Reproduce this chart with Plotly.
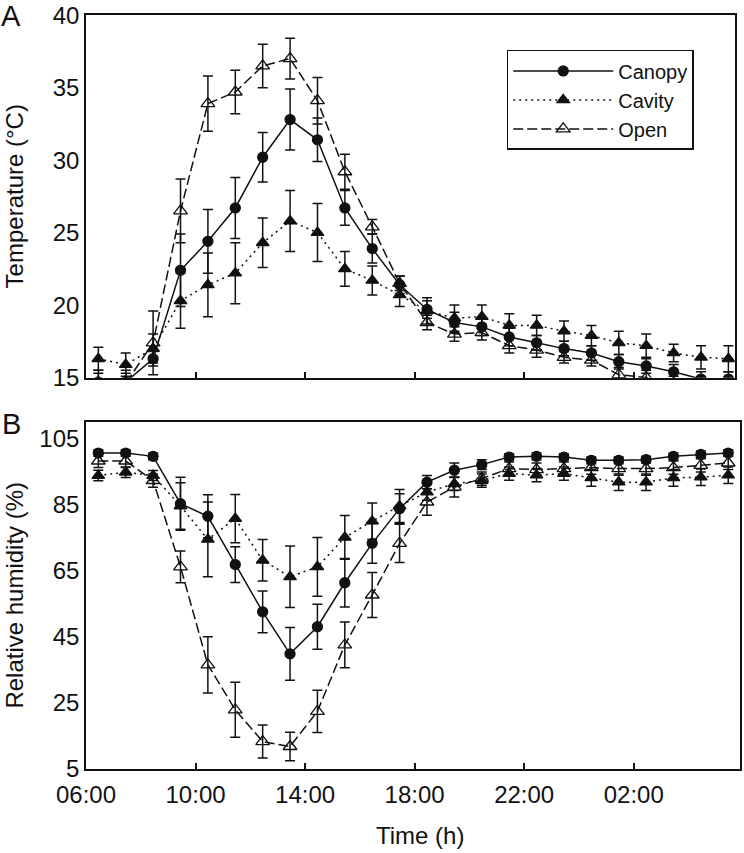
import plotly.graph_objects as go

# Time of each reading (decimal hours, >24 = next day)
hours = [6.45, 7.45, 8.45, 9.45, 10.45, 11.45, 12.45, 13.45, 14.45, 15.45, 16.45, 17.45,
         18.45, 19.45, 20.45, 21.45, 22.45, 23.45, 24.45, 25.45, 26.45, 27.45, 28.45, 29.45]

tick_vals = [6, 10, 14, 18, 22, 26]
tick_text = ["06:00", "10:00", "14:00", "18:00", "22:00", "02:00"]

# Panel A: temperature (°C)
temp_canopy = [14.7, 14.7, 16.3, 22.4, 24.4, 26.7, 30.2, 32.8, 31.4, 26.7, 23.9, 21.4,
               19.7, 18.8, 18.5, 17.8, 17.4, 17.0, 16.7, 16.1, 15.8, 15.4, 14.9, 14.9]
temp_canopy_err = [0.6, 0.6, 0.5, 2.5, 2.2, 2.1, 1.7, 2.1, 1.5, 1.2, 1.0, 0.6,
                   0.6, 0.7, 0.6, 0.6, 0.5, 0.5, 0.5, 0.5, 0.5, 0.5, 0.5, 0.5]
temp_cavity = [16.3, 15.9, 17.0, 20.3, 21.4, 22.2, 24.3, 25.8, 25.0, 22.5, 21.7, 20.7,
               19.6, 19.1, 19.2, 18.6, 18.6, 18.2, 17.9, 17.4, 17.2, 16.7, 16.4, 16.3]
temp_cavity_err = [0.8, 0.8, 1.0, 1.9, 2.2, 2.1, 1.7, 2.1, 2.0, 1.2, 1.0, 0.8,
                   0.9, 0.9, 0.8, 0.8, 0.7, 0.7, 0.7, 0.8, 0.8, 0.6, 0.8, 0.9]
temp_open = [14.6, 14.6, 17.4, 26.5, 33.9, 34.7, 36.5, 37.0, 34.1, 29.2, 25.4, 21.5,
             18.8, 18.0, 18.1, 17.2, 16.9, 16.4, 16.2, 15.2, 15.0, 14.6, 14.4, 14.4]
temp_open_err = [0.9, 0.9, 2.2, 2.2, 1.9, 1.5, 1.5, 1.4, 1.6, 1.2, 0.5, 0.5,
                 0.5, 0.5, 0.5, 0.5, 0.5, 0.4, 0.4, 0.5, 0.5, 0.5, 0.5, 0.5]

# Panel B: relative humidity (%)
rh_canopy = [100.5, 100.5, 99.5, 85.2, 81.4, 66.8, 52.5, 39.8, 48.0, 61.3, 73.2, 83.7,
             91.7, 95.3, 97.0, 99.3, 99.5, 99.3, 98.3, 98.3, 98.5, 99.5, 100.1, 100.5]
rh_canopy_err = [1, 1, 1, 8, 6.5, 5.4, 6.3, 8, 6.8, 7.3, 6, 4.5,
                 2, 2.2, 1.5, 1, 1, 1, 1, 1, 1, 1, 1, 1]
rh_cavity = [93.7, 94.7, 93.7, 84.5, 74.4, 80.7, 68.1, 63.1, 66.1, 75.0, 79.9, 84.5,
             88.7, 91.2, 92.2, 94.3, 93.8, 94.3, 93.0, 91.7, 91.7, 93.0, 93.2, 93.8]
rh_cavity_err = [1.6, 1.6, 1.5, 7, 11.3, 7.3, 6.3, 9.3, 8.9, 6.6, 5.5, 5,
                 2.5, 2, 2, 2, 2, 2, 2.5, 2.5, 2.5, 2.5, 2.5, 2.5]
rh_open = [98.1, 98.1, 92.2, 66.1, 36.5, 22.9, 13.3, 11.8, 22.4, 42.5, 57.6, 73.2,
           85.7, 90.2, 92.8, 95.8, 95.5, 95.8, 96.1, 95.8, 95.8, 96.1, 96.8, 97.5]
rh_open_err = [2, 2, 2, 4.8, 8.5, 8.3, 5, 4.3, 6.4, 6.9, 6.8, 5.8,
               4, 3, 2, 2, 2, 2, 2, 2, 2, 2, 2, 2]

FONT = "Liberation Sans, Arial, Helvetica, sans-serif"
INK = "#111111"

series = [
    ("Canopy", "solid", "circle", 10, temp_canopy, temp_canopy_err, rh_canopy, rh_canopy_err),
    ("Cavity", "2px,4px", "triangle-up", 11, temp_cavity, temp_cavity_err, rh_cavity, rh_cavity_err),
    ("Open", "10px,4px", "triangle-up-open", 12, temp_open, temp_open_err, rh_open, rh_open_err),
]

fig = go.Figure()
for name, dash, sym, msize, t, te, rh, rhe in series:
    marker = dict(symbol=sym, size=msize, color=INK, line=dict(color=INK, width=1.3))
    err_style = dict(type="data", visible=True, color=INK, thickness=1.5, width=5)
    fig.add_trace(go.Scatter(
        x=hours, y=t, name=name, mode="lines+markers",
        line=dict(color=INK, width=1.5, dash=dash), marker=marker,
        error_y=dict(array=te, **err_style), xaxis="x", yaxis="y",
        showlegend=True, legendgroup=name))
    fig.add_trace(go.Scatter(
        x=hours, y=rh, name=name, mode="lines+markers",
        line=dict(color=INK, width=1.5, dash=dash), marker=marker,
        error_y=dict(array=rhe, **err_style), xaxis="x2", yaxis="y2",
        showlegend=False, legendgroup=name))

axis_common = dict(showline=True, mirror=True, linecolor=INK, linewidth=1.6,
                   showgrid=False, zeroline=False, ticklabeloverflow="allow",
                   tickfont=dict(family=FONT, size=24, color=INK))

fig.update_layout(
    width=744, height=853,
    margin=dict(l=86, r=2, t=13, b=84),
    paper_bgcolor="white", plot_bgcolor="white",
    font=dict(family=FONT, size=24, color=INK),
    xaxis=dict(domain=[0, 0.9919], range=[6, 29.68], anchor="y",
               tickvals=tick_vals, ticktext=tick_text, showticklabels=False,
               ticks="inside", ticklen=6, tickwidth=1.5, tickcolor=INK, **axis_common),
    yaxis=dict(domain=[0.5189, 1], range=[14.99, 40.01], anchor="x",
               tickvals=[15, 20, 25, 30, 35, 40], ticks="", ticklabelstandoff=0,
               **axis_common),
    xaxis2=dict(domain=[0, 1], range=[6, 29.88], anchor="y2",
                tickvals=tick_vals, ticktext=tick_text,
                ticks="inside", ticklen=6, tickwidth=1.5, tickcolor=INK,
                ticklabelstandoff=3, **axis_common),
    yaxis2=dict(domain=[0, 0.4607], range=[5, 110], anchor="x2",
                tickvals=[5, 25, 45, 65, 85, 105], ticks="", ticklabelstandoff=0,
                **axis_common),
    legend=dict(x=0.6433, y=0.9537, xanchor="left", yanchor="top",
                bgcolor="white", bordercolor=INK, borderwidth=1.5,
                font=dict(family=FONT, size=20, color=INK),
                tracegroupgap=0, itemwidth=100),
    annotations=[
        dict(text="Temperature (°C)", textangle=-90, x=-0.1098, y=0.7597,
             xref="paper", yref="paper", xanchor="center", yanchor="middle",
             showarrow=False, font=dict(family=FONT, size=24, color=INK)),
        dict(text="Relative humidity (%)", textangle=-90, x=-0.1098, y=0.2302,
             xref="paper", yref="paper", xanchor="center", yanchor="middle",
             showarrow=False, font=dict(family=FONT, size=24, color=INK)),
        dict(text="Time (h)", x=0.5104, y=-0.0886, xref="paper", yref="paper",
             xanchor="center", yanchor="middle", showarrow=False,
             font=dict(family=FONT, size=24, color=INK)),
        dict(text="A", x=-0.1148, y=1.0225, xref="paper", yref="paper",
             xanchor="center", yanchor="top", showarrow=False,
             font=dict(family=FONT, size=29, color=INK)),
        dict(text="B", x=-0.1133, y=0.4577, xref="paper", yref="paper",
             xanchor="center", yanchor="middle", showarrow=False,
             font=dict(family=FONT, size=29, color=INK)),
    ],
)

fig.write_html("out.html", config={"displayModeBar": False},
               post_script="document.body.style.margin='0px';"
                           "document.body.style.overflow='hidden';")
